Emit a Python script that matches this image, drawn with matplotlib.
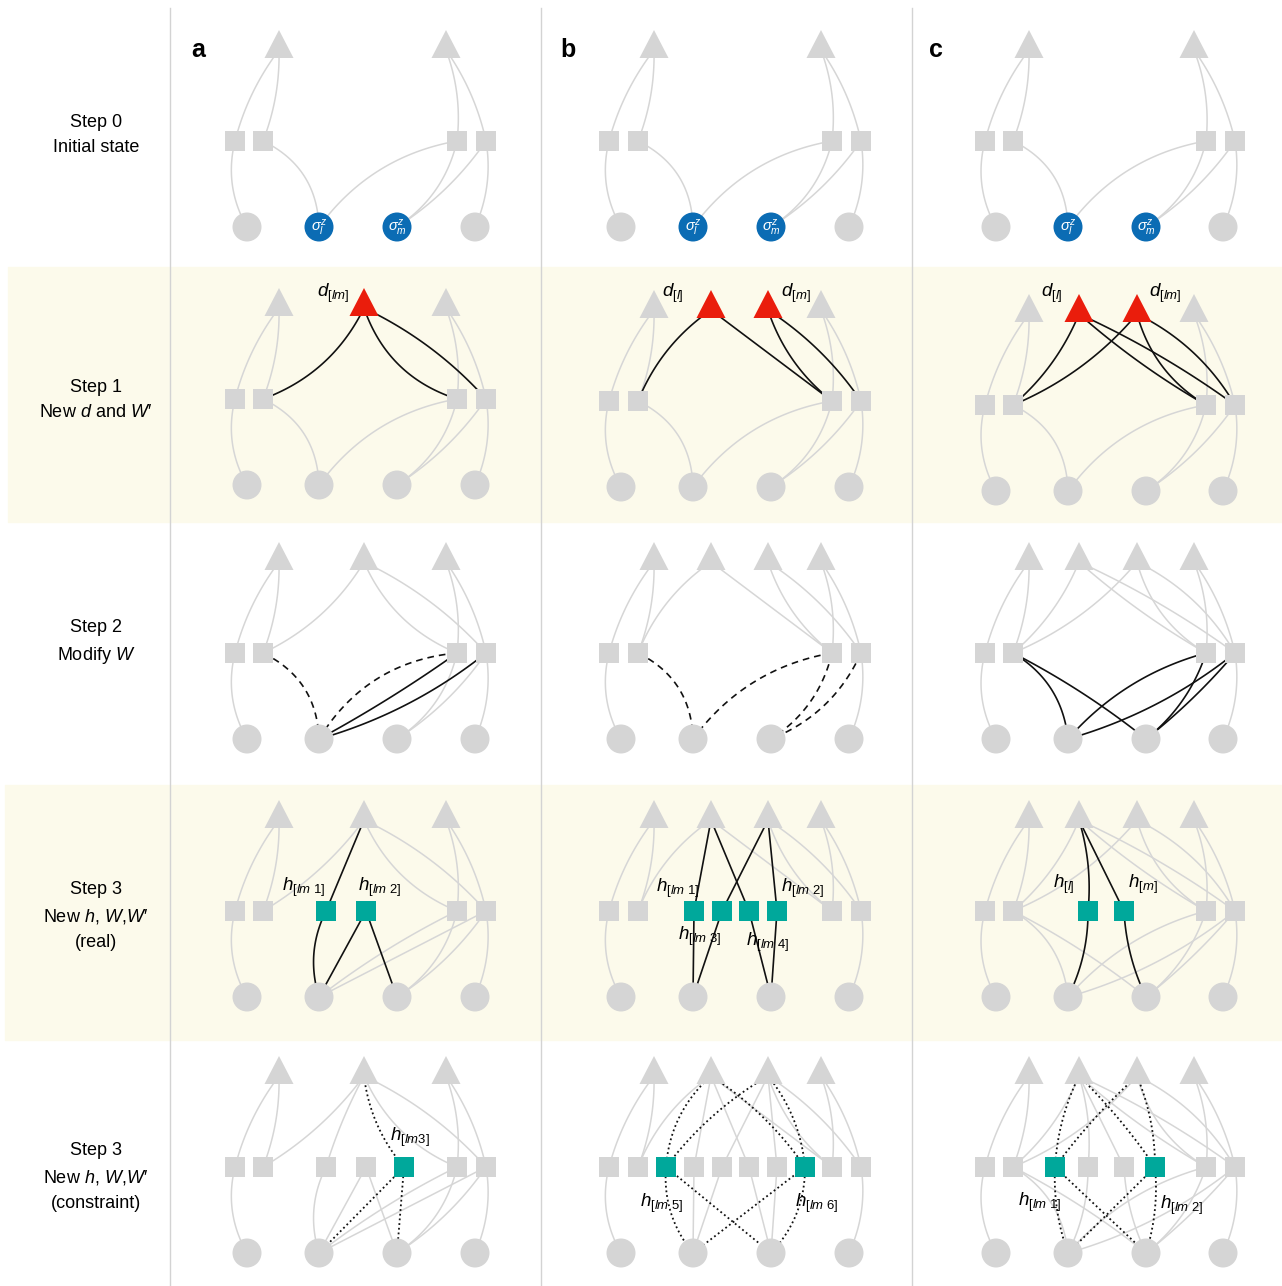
import numpy as np
import matplotlib.pyplot as plt
from matplotlib.patches import Rectangle, Circle, Polygon

plt.rcParams['font.family'] = ['Liberation Sans', 'DejaVu Sans']
plt.rcParams['mathtext.fontset'] = 'custom'
plt.rcParams['mathtext.rm'] = 'Liberation Sans'
plt.rcParams['mathtext.it'] = 'Liberation Sans:italic'
plt.rcParams['mathtext.bf'] = 'Liberation Sans:bold'

W, H = 1282, 1286

# ---- layout data (pixel coords of the reference) ----
columns = ['a', 'b', 'c']
col_sep = [170, 541, 912]
letter_x = [198, 568, 936]
row_top = [0, 258, 512, 770, 1026]
panel_dy = {(1, 'b'): 2, (1, 'c'): 6}
row_labels = ['Step 0\nInitial state',
              'Step 1\nNew $d$ and $W$\u2032',
              'Step 2\nModify $W$',
              'Step 3\nNew $h$, $W$,$W$\u2032\n(real)',
              'Step 3\nNew $h$, $W$,$W$\u2032\n(constraint)']
row_label_y = [135, 400, 643, 916, 1177]
bands = [(8, 267, 522), (5, 785, 1040)]

tri_x = {'a': {'TL': 279, 'TM': 364, 'TR': 446},
         'b': {'TL': 654, 'T2': 711, 'T3': 768, 'TR': 821},
         'c': {'TL': 1029, 'T2': 1079, 'T3': 1137, 'TR': 1194}}
sq_x = {'a': {'S1': 235, 'S2': 263, 'Q1': 326, 'Q2': 366, 'Q3': 404, 'S3': 457, 'S4': 486},
        'b': {'S1': 609, 'S2': 638, 'Q1': 666, 'Q2': 694, 'Q3': 722, 'Q4': 749,
              'Q5': 777, 'Q6': 805, 'S3': 832, 'S4': 861},
        'c': {'S1': 985, 'S2': 1013, 'Q1': 1055, 'Q2': 1088, 'Q3': 1124, 'Q4': 1155,
              'S3': 1206, 'S4': 1235}}
circ_x = {'a': [247, 319, 397, 475],
          'b': [621, 693, 771, 849],
          'c': [996, 1068, 1146, 1223]}

GREY, RED, TEAL, BLUE = '#d5d5d5', '#ea1d0c', '#00a89b', '#0b6cb4'

# ---- edges: (from, to, curvature) ----
BASE = [('TL', 'S1', 0.1), ('TL', 'S2', -0.1), ('TR', 'S3', -0.12), ('TR', 'S4', -0.1),
        ('S1', 'C1', 0.2), ('S4', 'C4', -0.15)]
BOTTOM0 = [('S2', 'C2', -0.3), ('S3', 'C2', 0.2), ('S3', 'C3', -0.2), ('S4', 'C3', -0.1)]
A_TOP = [('TM', 'S2', -0.15), ('TM', 'S3', 0.2), ('TM', 'S4', -0.1)]
B_TOP = [('T2', 'S2', 0.15), ('T2', 'S3', 0.0), ('T3', 'S3', 0.15), ('T3', 'S4', -0.1)]
C_TOP = [('T2', 'S2', -0.12), ('T3', 'S2', -0.12), ('T2', 'S3', 0.05), ('T2', 'S4', -0.05),
         ('T3', 'S3', 0.2), ('T3', 'S4', -0.15)]
C_MID = [('S2', 'C2', -0.25), ('S2', 'C3', -0.05), ('C2', 'S3', -0.15), ('C2', 'S4', 0.1),
         ('C3', 'S3', 0.15), ('C3', 'S4', 0.05)]
A_LOW = [('S3', 'C2', 0.05), ('S4', 'C2', 0.0), ('S3', 'C3', -0.2), ('S4', 'C3', -0.1)]
B_H = [('T2', 'Q2', 0), ('T2', 'Q4', 0), ('T3', 'Q3', 0), ('T3', 'Q5', 0),
       ('Q2', 'C2', 0), ('Q3', 'C2', 0), ('Q4', 'C3', 0), ('Q5', 'C3', 0)]
C_H = [('T2', 'Q2', -0.1), ('T2', 'Q3', 0), ('Q2', 'C2', -0.12), ('Q3', 'C3', 0.1)]

base_nodes = ['TL', 'TR', 'S1', 'S2', 'S3', 'S4', 'C1', 'C2', 'C3', 'C4']

panels = {
    (0, 'a'): dict(nodes={'C2': BLUE, 'C3': BLUE}, g=BASE + BOTTOM0),
    (0, 'b'): dict(nodes={'C2': BLUE, 'C3': BLUE}, g=BASE + BOTTOM0),
    (0, 'c'): dict(nodes={'C2': BLUE, 'C3': BLUE}, g=BASE + BOTTOM0),
    (1, 'a'): dict(nodes={'TM': RED}, g=BASE + BOTTOM0,
                   k=[('TM', 'S2', -0.2), ('TM', 'S3', 0.25), ('TM', 'S4', -0.1)]),
    (1, 'b'): dict(nodes={'T2': RED, 'T3': RED}, g=BASE + BOTTOM0, k=B_TOP),
    (1, 'c'): dict(nodes={'T2': RED, 'T3': RED}, g=BASE + BOTTOM0, k=C_TOP),
    (2, 'a'): dict(nodes={'TM': GREY}, g=BASE + A_TOP + BOTTOM0[2:],
                   d=[('S2', 'C2', -0.3), ('S3', 'C2', 0.25)],
                   k=[('C2', 'S3', 0.03), ('C2', 'S4', 0.1)]),
    (2, 'b'): dict(nodes={'T2': GREY, 'T3': GREY}, g=BASE + B_TOP,
                   d=[('S2', 'C2', -0.3), ('S3', 'C2', 0.2), ('S3', 'C3', -0.2), ('S4', 'C3', -0.2)]),
    (2, 'c'): dict(nodes={'T2': GREY, 'T3': GREY}, g=BASE + C_TOP, k=C_MID),
    (3, 'a'): dict(nodes={'TM': GREY, 'Q1': TEAL, 'Q2': TEAL},
                   g=BASE + [('TM', 'S2', -0.1), ('TM', 'S3', 0.2), ('TM', 'S4', -0.1)] + A_LOW,
                   k=[('TM', 'Q1', 0), ('Q1', 'C2', 0.2), ('Q2', 'C2', 0), ('Q2', 'C3', 0)]),
    (3, 'b'): dict(nodes={'T2': GREY, 'T3': GREY, 'Q2': TEAL, 'Q3': TEAL, 'Q4': TEAL, 'Q5': TEAL},
                   g=BASE + B_TOP, k=B_H),
    (3, 'c'): dict(nodes={'T2': GREY, 'T3': GREY, 'Q2': TEAL, 'Q3': TEAL},
                   g=BASE + C_TOP + C_MID, k=C_H),
    (4, 'a'): dict(nodes={'TM': GREY, 'Q1': GREY, 'Q2': GREY, 'Q3': TEAL},
                   g=BASE + [('TM', 'S2', -0.1), ('TM', 'Q1', 0.05), ('TM', 'S3', 0.2), ('TM', 'S4', -0.1),
                             ('Q1', 'C2', 0.2), ('Q2', 'C2', 0), ('Q2', 'C3', 0)] + A_LOW,
                   o=[('TM', 'Q3', 0.15), ('Q3', 'C2', 0), ('Q3', 'C3', 0)]),
    (4, 'b'): dict(nodes={'T2': GREY, 'T3': GREY, 'Q1': TEAL, 'Q2': GREY, 'Q3': GREY,
                          'Q4': GREY, 'Q5': GREY, 'Q6': TEAL},
                   g=BASE + B_TOP + B_H,
                   o=[('T2', 'Q1', 0.2), ('T3', 'Q1', 0.1), ('T2', 'Q6', -0.1), ('T3', 'Q6', -0.15),
                      ('Q1', 'C2', 0.2), ('Q1', 'C3', 0), ('Q6', 'C2', 0), ('Q6', 'C3', -0.2)]),
    (4, 'c'): dict(nodes={'T2': GREY, 'T3': GREY, 'Q1': TEAL, 'Q2': GREY, 'Q3': GREY, 'Q4': TEAL},
                   g=BASE + C_TOP + C_MID + C_H,
                   o=[('T2', 'Q1', 0.1), ('T3', 'Q1', 0.05), ('T2', 'Q4', -0.05), ('T3', 'Q4', -0.1),
                      ('Q1', 'C2', 0.1), ('Q1', 'C3', 0), ('Q4', 'C2', 0), ('Q4', 'C3', -0.1)]),
}

# text labels: (row, col, text, x, y)
node_labels = [
    (1, 'a', r'$d_{[lm]}$', 317, 293), (1, 'b', r'$d_{[l]}$', 662, 293),
    (1, 'b', r'$d_{[m]}$', 781, 293), (1, 'c', r'$d_{[l]}$', 1041, 293),
    (1, 'c', r'$d_{[lm]}$', 1149, 293),
    (3, 'a', r'$h_{[lm\ 1]}$', 282, 887), (3, 'a', r'$h_{[lm\ 2]}$', 358, 887),
    (3, 'b', r'$h_{[lm\ 1]}$', 656, 888), (3, 'b', r'$h_{[lm\ 2]}$', 781, 888),
    (3, 'b', r'$h_{[lm\ 3]}$', 678, 936), (3, 'b', r'$h_{[lm\ 4]}$', 746, 942),
    (3, 'c', r'$h_{[l]}$', 1053, 884), (3, 'c', r'$h_{[m]}$', 1128, 884),
    (4, 'a', r'$h_{[lm3]}$', 390, 1137),
    (4, 'b', r'$h_{[lm\ 5]}$', 640, 1203), (4, 'b', r'$h_{[lm\ 6]}$', 795, 1203),
    (4, 'c', r'$h_{[lm\ 1]}$', 1018, 1202), (4, 'c', r'$h_{[lm\ 2]}$', 1160, 1205),
]

styles = {'g': dict(color='#d6d6d6', lw=1.1, zorder=1),
          'k': dict(color='#111111', lw=1.2, zorder=2),
          'd': dict(color='#111111', lw=1.2, zorder=2, linestyle=(0, (4, 3))),
          'o': dict(color='#111111', lw=1.3, zorder=2, linestyle=(0, (1, 1.6)))}

fig = plt.figure(figsize=(W / 100, H / 100), dpi=100)
ax = fig.add_axes([0, 0, 1, 1])
ax.set_xlim(0, W)
ax.set_ylim(H, 0)
ax.axis('off')

for x0, y0, y1 in bands:
    ax.add_patch(Rectangle((x0, y0), W - x0, y1 - y0, color='#fcfaeb', zorder=0))
for x in col_sep:
    ax.plot([x, x], [8, H], color='#d3d3d3', lw=1.0, zorder=0.5)

for lab, y in zip(row_labels, row_label_y):
    ax.text(96, y, lab, ha='center', va='center', fontsize=13, linespacing=1.6)
for lx, c in zip(letter_x, columns):
    ax.text(lx, 50, c, ha='center', va='center', fontsize=18, fontweight='bold')


def pos(row, col, name):
    top = row_top[row] + panel_dy.get((row, col), 0)
    if name.startswith('T'):
        return np.array([tri_x[col][name], top + 50.0])
    if name.startswith('C'):
        return np.array([circ_x[col][int(name[1]) - 1], top + 227.0])
    return np.array([sq_x[col][name], top + 141.0])


def edge(p0, p1, rad, style):
    d = p1 - p0
    ctrl = (p0 + p1) / 2 + rad * np.array([-d[1], d[0]])
    t = np.linspace(0, 1, 60)[:, None]
    pts = (1 - t) ** 2 * p0 + 2 * (1 - t) * t * ctrl + t ** 2 * p1
    ax.plot(pts[:, 0], pts[:, 1], solid_capstyle='butt', **styles[style])


for (row, col), spec in panels.items():
    for style in ['g', 'k', 'd', 'o']:
        for a, b, rad in spec.get(style, []):
            edge(pos(row, col, a), pos(row, col, b), rad, style)
    nodes = {n: GREY for n in base_nodes}
    nodes.update(spec['nodes'])
    top = row_top[row] + panel_dy.get((row, col), 0)
    for n, colr in nodes.items():
        x, y = pos(row, col, n)
        if n.startswith('T'):
            ax.add_patch(Polygon([(x - 14.5, top + 58), (x + 14.5, top + 58), (x, top + 30)],
                                 closed=True, color=colr, zorder=3, lw=0))
        elif n.startswith('C'):
            ax.add_patch(Circle((x, y), 14.5, color=colr, zorder=3, lw=0))
        else:
            ax.add_patch(Rectangle((x - 10, y - 10), 20, 20, color=colr, zorder=3, lw=0))
    if row == 0:
        for n, s in [('C2', r'$\sigma^z_l$'), ('C3', r'$\sigma^z_m$')]:
            x, y = pos(row, col, n)
            ax.text(x, y + 1, s, color='white', fontsize=10.5, ha='center', va='center', zorder=4)

for row, col, s, x, y in node_labels:
    ax.text(x, y, s, ha='left', va='center', fontsize=13.5, zorder=4)

fig.savefig('out.png', dpi=100)
